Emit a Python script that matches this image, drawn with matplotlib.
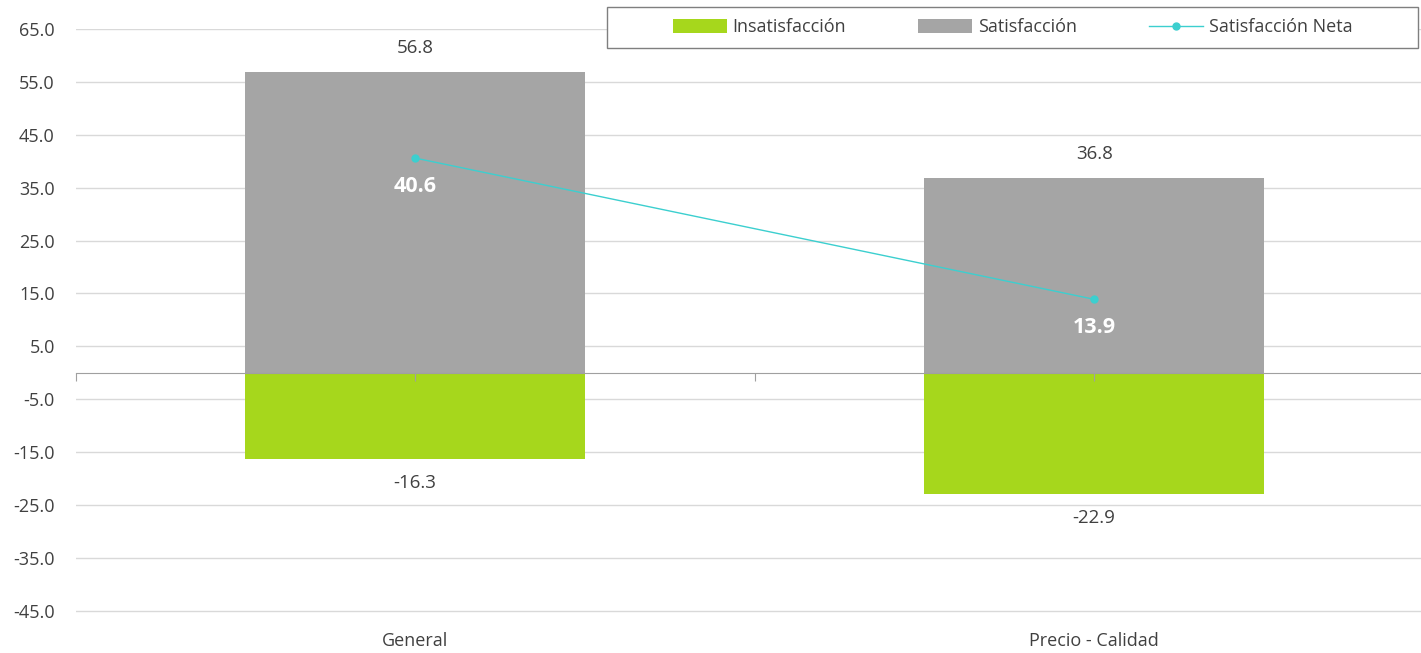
import matplotlib
matplotlib.use("Agg")

import matplotlib.pyplot as plt
from matplotlib.patches import Rectangle
import numpy as np

categories = ["General", "Precio - Calidad"]
insatisfaccion = [-16.3, -22.9]
satisfaccion = [56.8, 36.8]
satisfaccion_neta = [40.6, 13.9]
y_ticks = [-45, -35, -25, -15, -5, 5, 15, 25, 35, 45, 55, 65]

GREEN = "#A6D71C"
GRAY = "#A5A5A5"
TEAL = "#3CCFCF"
TEXT = "#404040"

plt.rcParams["font.family"] = ["Open Sans", "DejaVu Sans"]

fig = plt.figure(figsize=(14.21, 6.53), dpi=100)
# the plot area runs a little past the right edge of the picture
ax = fig.add_axes([0.0532, 0.0613, 0.9557, 0.8943])

x = np.arange(len(categories))
width = 0.5

ax.set_axisbelow(True)
ax.yaxis.grid(True, color="#D9D9D9", linewidth=1)

b_ins = ax.bar(x, insatisfaccion, width, color=GREEN, label="Insatisfacción", zorder=2)
b_sat = ax.bar(x, satisfaccion, width, color=GRAY, label="Satisfacción", zorder=2)
ln, = ax.plot(x, satisfaccion_neta, color=TEAL, linewidth=1, marker="o", markersize=5,
              label="Satisfacción Neta", zorder=4)

for xi, v in zip(x, satisfaccion):
    ax.annotate(f"{v:.1f}", (xi, v), xytext=(0, 11), textcoords="offset points",
                ha="center", va="bottom", fontsize=13.5, color=TEXT)
for xi, v in zip(x, insatisfaccion):
    ax.annotate(f"{v:.1f}", (xi, v), xytext=(0, -11), textcoords="offset points",
                ha="center", va="top", fontsize=13.5, color=TEXT)
for xi, v in zip(x, satisfaccion_neta):
    ax.annotate(f"{v:.1f}", (xi, v), xytext=(0, -13), textcoords="offset points",
                ha="center", va="top", fontsize=15.5, color="white", fontweight="bold")

ax.set_xlim(-0.5, 1.5)
ax.set_ylim(-45.4, 65)
ax.set_yticks(y_ticks)
ax.set_yticklabels([f"{t:.1f}" for t in y_ticks], fontsize=13, color=TEXT)
ax.tick_params(axis="y", length=0, pad=15)

for s in ["top", "right", "left"]:
    ax.spines[s].set_visible(False)
ax.spines["bottom"].set_position(("data", 0))
ax.spines["bottom"].set_color("#A0A0A0")
ax.spines["bottom"].set_zorder(3)
ax.xaxis.set_zorder(3)
ax.set_xticks([-0.5, 0, 0.5, 1, 1.5])
ax.set_xticklabels([])
ax.tick_params(axis="x", direction="out", length=6, color="#A0A0A0")

secax = ax.secondary_xaxis(0)
secax.set_xticks(x)
secax.set_xticklabels(categories, fontsize=13, color=TEXT)
secax.tick_params(length=0, pad=14)
secax.spines["bottom"].set_visible(False)

# legend box
box = (0.427, 0.926, 0.571, 0.064)
fig.patches.append(Rectangle(box[:2], box[2], box[3], transform=fig.transFigure,
                             facecolor="white", edgecolor="#7F7F7F", linewidth=1, zorder=5))
leg = fig.legend(handles=[b_ins, b_sat, ln], loc="center", ncol=3,
                 bbox_to_anchor=box, fontsize=13, frameon=False,
                 handlelength=3.0, handleheight=0.8, handletextpad=0.3,
                 columnspacing=4.0, borderaxespad=0, labelcolor=TEXT)
leg.set_zorder(6)

fig.savefig("out.png", dpi=100)
